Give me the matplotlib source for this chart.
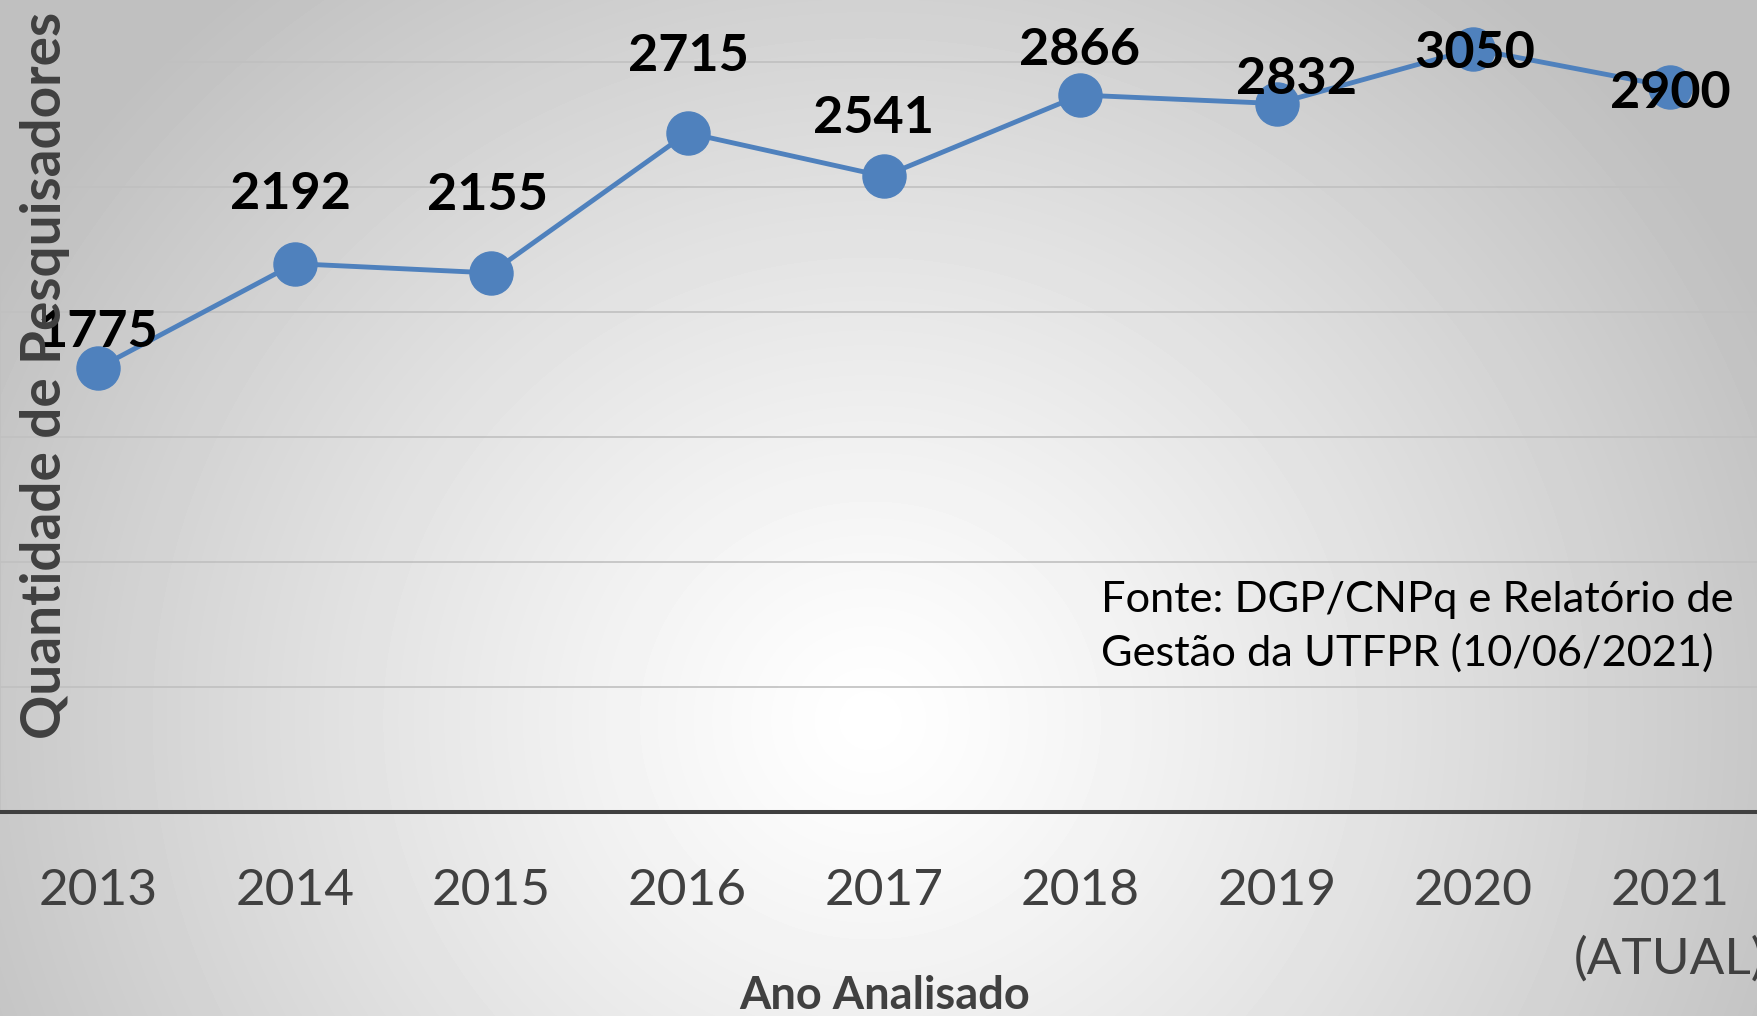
import numpy as np
import matplotlib
matplotlib.use('Agg')
import matplotlib.pyplot as plt

years = ['2013', '2014', '2015', '2016', '2017', '2018', '2019', '2020', '2021\n(ATUAL)']
pesquisadores = [1775, 2192, 2155, 2715, 2541, 2866, 2832, 3050, 2900]

# label offsets in pixels (dx, dy) as placed in the original
label_dx = [0, -4, -4, 1, -11, -1, 20, 1, 1]
label_dy = [35, 69, 77, 76, 58, 45, 24, -4, -7]

plt.rcParams['font.family'] = ['Lato', 'DejaVu Sans']

W, H = 1757, 1016
fig = plt.figure(figsize=(W / 100, H / 100), dpi=100)

# radial gray gradient background
bg = fig.add_axes([0, 0, 1, 1], zorder=0)
yy, xx = np.mgrid[0:H, 0:W]
r = np.sqrt(((xx - 870) / 1000.0) ** 2 + ((yy - 720) / 950.0) ** 2)
shade = 1 - 0.25 * np.clip(r, 0, 1) ** 1.2
bg.imshow(shade, cmap='gray', vmin=0, vmax=1, aspect='auto', extent=[0, W, H, 0])
bg.axis('off')

ax = fig.add_axes([0, 1 - 812 / H, 1, 812 / H], zorder=1)
ax.patch.set_alpha(0)

x = np.arange(len(years))
ax.plot(x, pesquisadores, color='#4F81BD', lw=3.5, marker='o', ms=31, zorder=3,
        clip_on=False)

for i, v in enumerate(pesquisadores):
    ax.annotate(str(v), (x[i], v), xytext=(label_dx[i], label_dy[i]),
                textcoords='offset pixels', ha='center', va='center',
                fontsize=37.5, fontweight='bold', color='black', zorder=4)

ax.set_xlim(-0.5, 8.444)
ax.set_ylim(0, 3246)
ax.set_yticks(np.arange(500, 3500, 500))
ax.set_yticklabels([])
ax.tick_params(axis='y', length=0)
ax.grid(axis='y', color='#c0c0c0', lw=1.2, zorder=1)

ax.set_xticks(x)
ax.set_xticklabels(years, fontsize=37, color='#404040', linespacing=1.6)
ax.tick_params(axis='x', length=0, pad=40)

for s in ['top', 'right']:
    ax.spines[s].set_visible(False)
ax.spines['left'].set_color('#c0c0c0')
ax.spines['left'].set_linewidth(1.2)
ax.spines['bottom'].set_color('#404040')
ax.spines['bottom'].set_linewidth(2.9)

fig.text(885 / W, 1 - 996 / H, 'Ano Analisado', ha='center', va='center',
         fontsize=32.5, fontweight='bold', color='#404040', zorder=5)
fig.text(45 / W, 1 - 375 / H, 'Quantidade de Pesquisadores', rotation=90,
         ha='center', va='center', fontsize=39.5, fontweight='bold',
         color='#404040', zorder=5)
fig.text(1101 / W, 1 - 627 / H,
         'Fonte: DGP/CNPq e Relatório de\nGestão da UTFPR (10/06/2021)',
         ha='left', va='center', fontsize=31.2, color='black',
         linespacing=1.45, zorder=5)

fig.savefig('out.png', dpi=100)
